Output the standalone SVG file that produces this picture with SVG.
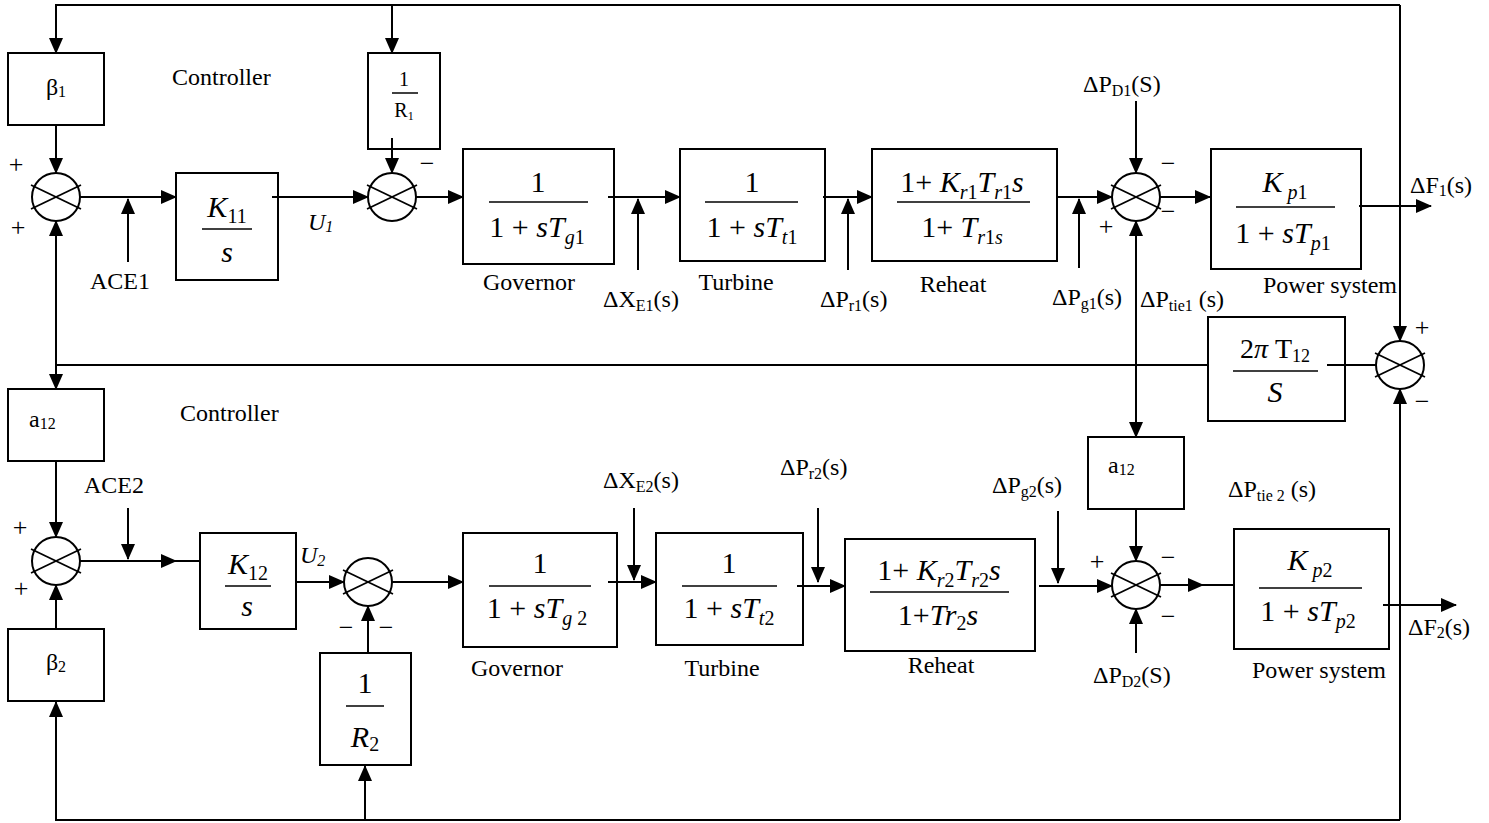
<svg xmlns="http://www.w3.org/2000/svg" width="1489" height="823" viewBox="0 0 1489 823">
<style>
text{font-family:"Liberation Serif","Times New Roman",serif;fill:#000}
.f{font-size:30px}
.i{font-style:italic}
.fs{font-size:20px}
.lbl{font-size:24px}
.sb{font-size:16px}
.sg{font-size:26px;text-anchor:middle}
.box{fill:none;stroke:#000;stroke-width:2}
.bar{stroke:#000;stroke-width:1.5}
.c path{fill:none;stroke:#000;stroke-width:2}
.a{marker-end:url(#ar)}
</style>
<defs>
<marker id="ar" markerUnits="userSpaceOnUse" markerWidth="16" markerHeight="14" refX="15" refY="7" orient="auto" viewBox="0 0 16 14"><path d="M0,0 L16,7 L0,14 z" fill="#000"/></marker>
<g id="sumsym"><circle r="24" fill="none" stroke="#000" stroke-width="2"/><line x1="-25" y1="-12" x2="25" y2="12" stroke="#000" stroke-width="1.8"/><line x1="-25" y1="12" x2="25" y2="-12" stroke="#000" stroke-width="1.8"/></g>
</defs>
<rect width="1489" height="823" fill="#fff"/>

<g id="connectors" class="c">
<path class="a" d="M1400,5 L1400,341"/>
<path class="a" d="M1400,5 L56,5 L56,53"/>
<path class="a" d="M392,5 L392,53"/>
<path class="a" d="M1400,820 L1400,389"/>
<path class="a" d="M1400,820 L56,820 L56,702"/>
<path class="a" d="M365,820 L365,766"/>
<path d="M1327,365 L1376,365"/>
<path d="M1208,365 L56,365"/>
<path class="a" d="M56,365 L56,389"/>
<path class="a" d="M56,365 L56,221"/>
<path class="a" d="M1136,365 L1136,221"/>
<path class="a" d="M1136,365 L1136,437"/>
<path class="a" d="M56,125 L56,173"/>
<path class="a" d="M80,197 L176,197"/>
<path class="a" d="M128,262 L128,199"/>
<path class="a" d="M272,197 L368,197"/>
<path class="a" d="M392,138 L392,173"/>
<path class="a" d="M416,197 L463,197"/>
<path class="a" d="M608,197 L680,197"/>
<path class="a" d="M638,270 L638,199"/>
<path class="a" d="M823,197 L872,197"/>
<path class="a" d="M848,270 L848,199"/>
<path class="a" d="M1058,197 L1112,197"/>
<path class="a" d="M1079,268 L1079,199"/>
<path class="a" d="M1136,101 L1136,173"/>
<path class="a" d="M1160,197 L1210,197"/>
<path class="a" d="M1359,206 L1431,206"/>
<path class="a" d="M56,461 L56,537"/>
<path class="a" d="M56,629 L56,585"/>
<path class="a" d="M80,561 L176,561"/>
<path d="M176,561 L200,561"/>
<path class="a" d="M128,508 L128,559"/>
<path class="a" d="M296,582 L344,582"/>
<path class="a" d="M368,653 L368,606"/>
<path class="a" d="M392,582 L463,582"/>
<path class="a" d="M608,582 L656,582"/>
<path class="a" d="M634,508 L634,580"/>
<path class="a" d="M797,586 L845,586"/>
<path class="a" d="M818,508 L818,582"/>
<path class="a" d="M1039,586 L1112,586"/>
<path class="a" d="M1058,511 L1058,583"/>
<path class="a" d="M1136,509 L1136,561"/>
<path class="a" d="M1136,653 L1136,609"/>
<path class="a" d="M1160,585 L1203,585"/>
<path d="M1203,585 L1234,585"/>
<path class="a" d="M1383,605 L1456,605"/>
</g>

<g id="beta1"><rect class="box" x="8" y="53" width="96" height="72"/><text class="lbl" x="56" y="95" text-anchor="middle">β<tspan class="sb" dy="2">1</tspan></text></g>
<g id="sum1"><use href="#sumsym" x="56" y="197"/><text class="sg" x="16" y="173">+</text><text class="sg" x="18" y="236">+</text></g>
<g id="k11"><rect class="box" x="176" y="173" width="102" height="107"/>
<text class="f" x="227" y="217" text-anchor="middle"><tspan class="i">K</tspan><tspan class="fs" dy="6">11</tspan></text>
<line class="bar" x1="202" y1="229" x2="252" y2="229"/>
<text class="f i" x="227" y="262" text-anchor="middle">s</text></g>
<g id="invR1"><rect class="box" x="368" y="53" width="72" height="96"/>
<text x="404" y="86" font-size="20" text-anchor="middle">1</text>
<line class="bar" x1="392" y1="93" x2="418" y2="93"/>
<text x="404" y="117" font-size="20" text-anchor="middle">R<tspan font-size="12" dy="3">1</tspan></text></g>
<g id="sum2"><use href="#sumsym" x="392" y="197"/><text class="sg" x="427" y="172">−</text></g>
<g id="gov1"><rect class="box" x="463" y="149" width="151" height="115"/>
<text class="f" x="538" y="192" text-anchor="middle">1</text>
<line class="bar" x1="489" y1="202" x2="588" y2="202"/>
<text class="f" x="537" y="237" text-anchor="middle">1 + <tspan class="i">sT</tspan><tspan class="fs" dy="7"><tspan class="i">g</tspan>1</tspan></text></g>
<g id="turb1"><rect class="box" x="680" y="149" width="145" height="112"/>
<text class="f" x="752" y="192" text-anchor="middle">1</text>
<line class="bar" x1="705" y1="202" x2="798" y2="202"/>
<text class="f" x="752" y="237" text-anchor="middle">1 + <tspan class="i">sT</tspan><tspan class="fs" dy="7"><tspan class="i">t</tspan>1</tspan></text></g>
<g id="reheat1"><rect class="box" x="872" y="149" width="185" height="112"/>
<text class="f" x="962" y="192" text-anchor="middle">1+ <tspan class="i">K</tspan><tspan class="fs" dy="7"><tspan class="i">r</tspan>1</tspan><tspan class="i" dy="-7">T</tspan><tspan class="fs" dy="7"><tspan class="i">r</tspan>1</tspan><tspan class="i" dy="-7">s</tspan></text>
<line class="bar" x1="897" y1="202" x2="1030" y2="202"/>
<text class="f" x="962" y="237" text-anchor="middle">1+ <tspan class="i">T</tspan><tspan class="fs i" dy="7">r<tspan font-style="normal">1</tspan>s</tspan></text></g>
<g id="sum3"><use href="#sumsym" x="1136" y="197"/><text class="sg" x="1168" y="172">−</text><text class="sg" x="1168" y="220">−</text><text class="sg" x="1106" y="235">+</text></g>
<g id="kp1"><rect class="box" x="1211" y="149" width="150" height="120"/>
<text class="f" x="1285" y="192" text-anchor="middle"><tspan class="i">K</tspan><tspan class="fs" dy="7"> <tspan class="i">p</tspan>1</tspan></text>
<line class="bar" x1="1236" y1="207" x2="1335" y2="207"/>
<text class="f" x="1283" y="243" text-anchor="middle">1 + <tspan class="i">sT</tspan><tspan class="fs" dy="7"><tspan class="i">p</tspan>1</tspan></text></g>
<g id="tie"><rect class="box" x="1208" y="317" width="137" height="104"/>
<text x="1275" y="358" font-size="28" text-anchor="middle">2<tspan class="i">π</tspan> T<tspan font-size="18" dy="4">12</tspan></text>
<line class="bar" x1="1233" y1="371" x2="1318" y2="371"/>
<text class="i" x="1275" y="402" font-size="30" text-anchor="middle">S</text></g>
<g id="sumTie"><use href="#sumsym" x="1400" y="365"/><text class="sg" x="1422" y="336">+</text><text class="sg" x="1422" y="410">−</text></g>

<g id="a12L"><rect class="box" x="8" y="389" width="96" height="72"/><text class="lbl" x="29" y="427">a<tspan class="sb" dy="2">12</tspan></text></g>
<g id="sum4"><use href="#sumsym" x="56" y="561"/><text class="sg" x="20" y="536">+</text><text class="sg" x="21" y="597">+</text></g>
<g id="beta2"><rect class="box" x="8" y="629" width="96" height="72"/><text class="lbl" x="56" y="670" text-anchor="middle">β<tspan class="sb" dy="2">2</tspan></text></g>
<g id="k12"><rect class="box" x="200" y="533" width="96" height="96"/>
<text class="f" x="248" y="574" text-anchor="middle"><tspan class="i">K</tspan><tspan class="fs" dy="6">12</tspan></text>
<line class="bar" x1="225" y1="586" x2="271" y2="586"/>
<text class="f i" x="247" y="616" text-anchor="middle">s</text></g>
<g id="sum5"><use href="#sumsym" x="368" y="582"/><text class="sg" x="346" y="636">−</text><text class="sg" x="386" y="636">−</text></g>
<g id="invR2"><rect class="box" x="320" y="653" width="91" height="112"/>
<text class="f" x="365" y="693" text-anchor="middle">1</text>
<line class="bar" x1="346" y1="706" x2="384" y2="706"/>
<text class="f" x="365" y="747" text-anchor="middle"><tspan class="i">R</tspan><tspan class="fs" dy="4">2</tspan></text></g>
<g id="gov2"><rect class="box" x="463" y="533" width="154" height="114"/>
<text class="f" x="540" y="573" text-anchor="middle">1</text>
<line class="bar" x1="489" y1="586" x2="591" y2="586"/>
<text class="f" x="537" y="618" text-anchor="middle">1 + <tspan class="i">sT</tspan><tspan class="fs" dy="7"><tspan class="i">g</tspan> 2</tspan></text></g>
<g id="turb2"><rect class="box" x="656" y="533" width="147" height="112"/>
<text class="f" x="729" y="573" text-anchor="middle">1</text>
<line class="bar" x1="682" y1="586" x2="777" y2="586"/>
<text class="f" x="729" y="618" text-anchor="middle">1 + <tspan class="i">sT</tspan><tspan class="fs" dy="7"><tspan class="i">t</tspan>2</tspan></text></g>
<g id="reheat2"><rect class="box" x="845" y="539" width="190" height="112"/>
<text class="f" x="939" y="580" text-anchor="middle">1+ <tspan class="i">K</tspan><tspan class="fs" dy="7"><tspan class="i">r</tspan>2</tspan><tspan class="i" dy="-7">T</tspan><tspan class="fs" dy="7"><tspan class="i">r</tspan>2</tspan><tspan class="i" dy="-7">s</tspan></text>
<line class="bar" x1="870" y1="592" x2="1009" y2="592"/>
<text class="f" x="938" y="625" text-anchor="middle">1+<tspan class="i">Tr</tspan><tspan class="fs" dy="5">2</tspan><tspan class="i" dy="-5">s</tspan></text></g>
<g id="a12R"><rect class="box" x="1088" y="437" width="96" height="72"/><text class="lbl" x="1108" y="473">a<tspan class="sb" dy="2">12</tspan></text></g>
<g id="sum6"><use href="#sumsym" x="1136" y="585"/><text class="sg" x="1097" y="570">+</text><text class="sg" x="1168" y="566">−</text><text class="sg" x="1168" y="625">−</text></g>
<g id="kp2"><rect class="box" x="1234" y="529" width="155" height="120"/>
<text class="f" x="1310" y="570" text-anchor="middle"><tspan class="i">K</tspan><tspan class="fs" dy="7"> <tspan class="i">p</tspan>2</tspan></text>
<line class="bar" x1="1259" y1="588" x2="1362" y2="588"/>
<text class="f" x="1308" y="621" text-anchor="middle">1 + <tspan class="i">sT</tspan><tspan class="fs" dy="7"><tspan class="i">p</tspan>2</tspan></text></g>

<g id="labels">
<text class="lbl" x="172" y="85" font-size="23.5">Controller</text>
<text class="lbl" x="180" y="421" font-size="23.5">Controller</text>
<text class="lbl" x="120" y="289" font-size="23" text-anchor="middle">ACE1</text>
<text class="lbl" x="114" y="493" font-size="25" text-anchor="middle">ACE2</text>
<text class="lbl i" x="308" y="230" font-size="22">U<tspan font-size="16" dy="2">1</tspan></text>
<text class="lbl i" x="300" y="563" font-size="22">U<tspan font-size="16" dy="3">2</tspan></text>
<text class="lbl" x="529" y="290" text-anchor="middle">Governor</text>
<text class="lbl" x="736" y="290" text-anchor="middle">Turbine</text>
<text class="lbl" x="953" y="292" text-anchor="middle">Reheat</text>
<text class="lbl" x="1330" y="293" text-anchor="middle">Power system</text>
<text class="lbl" x="517" y="676" text-anchor="middle">Governor</text>
<text class="lbl" x="722" y="676" text-anchor="middle">Turbine</text>
<text class="lbl" x="941" y="673" text-anchor="middle">Reheat</text>
<text class="lbl" x="1319" y="678" text-anchor="middle">Power system</text>
<text class="lbl" x="603" y="307">ΔX<tspan class="sb" dy="4">E1</tspan><tspan dy="-4">(s)</tspan></text>
<text class="lbl" x="820" y="307">ΔP<tspan class="sb" dy="4">r1</tspan><tspan dy="-4">(s)</tspan></text>
<text class="lbl" x="1052" y="305">ΔP<tspan class="sb" dy="4">g1</tspan><tspan dy="-4">(s)</tspan></text>
<text class="lbl" x="1140" y="307">ΔP<tspan class="sb" dy="4">tie1</tspan><tspan dy="-4"> (s)</tspan></text>
<text class="lbl" x="1083" y="92">ΔP<tspan class="sb" dy="4">D1</tspan><tspan dy="-4">(S)</tspan></text>
<text class="lbl" x="1410" y="193">ΔF<tspan class="sb" dy="3">1</tspan><tspan dy="-3">(s)</tspan></text>
<text class="lbl" x="603" y="488">ΔX<tspan class="sb" dy="4">E2</tspan><tspan dy="-4">(s)</tspan></text>
<text class="lbl" x="780" y="475">ΔP<tspan class="sb" dy="4">r2</tspan><tspan dy="-4">(s)</tspan></text>
<text class="lbl" x="992" y="493">ΔP<tspan class="sb" dy="4">g2</tspan><tspan dy="-4">(s)</tspan></text>
<text class="lbl" x="1228" y="497">ΔP<tspan class="sb" dy="4">tie 2</tspan><tspan dy="-4"> (s)</tspan></text>
<text class="lbl" x="1093" y="683">ΔP<tspan class="sb" dy="4">D2</tspan><tspan dy="-4">(S)</tspan></text>
<text class="lbl" x="1408" y="635">ΔF<tspan class="sb" dy="3">2</tspan><tspan dy="-3">(s)</tspan></text>
</g>
</svg>
